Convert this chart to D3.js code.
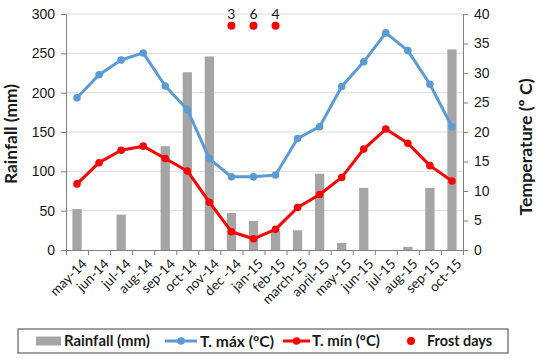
<!DOCTYPE html>
<html>
<head>
<meta charset="utf-8">
<script src="https://cdn.jsdelivr.net/npm/d3@7"></script>
<style>
  body { margin: 0; background: #fff; }
  svg { display: block; font-family: Lato, "Open Sans", sans-serif; }
</style>
</head>
<body>
<div id="chart"></div>
<script>
// data
const months = ['may-14', 'jun-14', 'jul-14', 'aug-14', 'sep-14', 'oct-14', 'nov-14', 'dec -14', 'jan-15',
    'feb-15', 'march-15', 'april-15', 'may-15', 'jun-15', 'jul-15', 'aug-15', 'sep-15', 'oct-15'];
const rainfall = [52, 0, 45, 0, 132, 226, 246, 47, 37, 24, 25, 97, 9, 79, 0, 4, 79, 255];
const tMax = [25.8, 29.7, 32.2, 33.4, 27.8, 23.8, 15.5, 12.4, 12.4, 12.7, 18.9, 20.9, 27.7, 31.9, 36.8, 33.8, 28.1, 20.9];
const tMin = [11.2, 14.8, 16.9, 17.6, 15.5, 13.4, 8.1, 3.1, 1.9, 3.5, 7.2, 9.4, 12.3, 17.1, 20.5, 18.1, 14.3, 11.7];
const frostMonths = ['dec -14', 'jan-15', 'feb-15'];
const frostDays = [3, 6, 4];
const rainTicks = [0, 50, 100, 150, 200, 250, 300];
const tempTicks = [0, 5, 10, 15, 20, 25, 30, 35, 40];
const frostLevel = 38; // frost markers sit near the top of the temperature axis

const W = 537, H = 359;
const m = { top: 14, right: 74, bottom: 109, left: 66 };
const w = W - m.left - m.right, h = H - m.top - m.bottom;

const C = {
    bar: '#a5a5a5', blue: '#5b9bd5', red: '#ff0000',
    grid: '#d9d9d9', axis: '#7f7f7f', text: '#1a1a1a'
};

const svg = d3.select('#chart').append('svg').attr('width', W).attr('height', H);
const g = svg.append('g').attr('transform', `translate(${m.left},${m.top})`);

const x = d3.scaleBand().domain(months).range([0, w]).paddingInner(0.58).paddingOuter(0.29);
const xc = d => x(d) + x.bandwidth() / 2;
const yR = d3.scaleLinear().domain([0, 300]).range([h, 0]);
const yT = d3.scaleLinear().domain([0, 40]).range([h, 0]);

// shrink/grow a label's font so it spans about the width seen in the picture
function fit(sel, target) {
    const len = sel.node().getComputedTextLength();
    const fs = parseFloat(sel.style('font-size'));
    sel.style('font-size', (fs * target / len).toFixed(2) + 'px');
}

// gridlines
g.append('g').selectAll('line').data(rainTicks.slice(1)).join('line')
    .attr('x1', 0).attr('x2', w)
    .attr('y1', d => yR(d)).attr('y2', d => yR(d))
    .attr('stroke', C.grid).attr('stroke-width', 1);

// bars
g.append('g').selectAll('rect').data(rainfall).join('rect')
    .attr('x', (d, i) => x(months[i]))
    .attr('y', d => yR(d))
    .attr('width', x.bandwidth())
    .attr('height', d => h - yR(d))
    .attr('fill', C.bar);

// axes
function styleAxis(sel) {
    sel.selectAll('path, line').attr('stroke', C.axis);
    sel.selectAll('text').attr('fill', C.text).style('font-size', '14px');
}
g.append('g')
    .call(d3.axisLeft(yR).tickValues(rainTicks).tickSize(5).tickPadding(6).tickSizeOuter(0))
    .call(styleAxis);
g.append('g').attr('transform', `translate(${w},0)`)
    .call(d3.axisRight(yT).tickValues(tempTicks).tickSize(5).tickPadding(6).tickSizeOuter(0))
    .call(styleAxis);

// bottom axis: ticks between categories
const xb = d3.scaleLinear().domain([0, months.length]).range([0, w]);
g.append('g').attr('transform', `translate(0,${h})`)
    .call(d3.axisBottom(xb).tickValues(d3.range(months.length + 1)).tickSize(5).tickSizeOuter(0).tickFormat(''))
    .call(styleAxis);
g.append('g').selectAll('text').data(months).join('text')
    .attr('transform', d => `translate(${xc(d) + 4},${h + 8}) rotate(-45)`)
    .attr('text-anchor', 'end')
    .attr('dy', '0.7em')
    .attr('fill', C.text)
    .style('font-size', '13.5px')
    .text(d => d);

// temperature lines
function drawLine(vals, color) {
    const line = d3.line().x((d, i) => xc(months[i])).y(d => yT(d));
    g.append('path').datum(vals)
        .attr('d', line).attr('fill', 'none')
        .attr('stroke', color).attr('stroke-width', 3).attr('stroke-linejoin', 'round');
    g.append('g').selectAll('circle').data(vals).join('circle')
        .attr('cx', (d, i) => xc(months[i])).attr('cy', d => yT(d))
        .attr('r', 3.8).attr('fill', color);
}
drawLine(tMax, C.blue);
drawLine(tMin, C.red);

// frost days
const frost = g.append('g');
frost.selectAll('circle').data(frostDays).join('circle')
    .attr('cx', (d, i) => xc(frostMonths[i])).attr('cy', yT(frostLevel))
    .attr('r', 4).attr('fill', C.red);
frost.selectAll('text').data(frostDays).join('text')
    .attr('x', (d, i) => xc(frostMonths[i])).attr('y', yT(frostLevel) - 7)
    .attr('text-anchor', 'middle')
    .attr('fill', C.text)
    .style('font-size', '14px')
    .text(d => d);

// axis titles
svg.append('text')
    .attr('transform', 'translate(11,134) rotate(-90)')
    .attr('text-anchor', 'middle').attr('dy', '0.36em')
    .attr('fill', C.text).style('font-size', '15px').style('font-weight', 'bold')
    .text('Rainfall (mm)')
    .call(fit, 100);
svg.append('text')
    .attr('transform', 'translate(526,147) rotate(-90)')
    .attr('text-anchor', 'middle').attr('dy', '0.36em')
    .attr('fill', C.text).style('font-size', '15px').style('font-weight', 'bold')
    .text('Temperature (º C)')
    .call(fit, 137);

// legend
const lg = svg.append('g').attr('transform', 'translate(18,329)');
lg.append('rect').attr('width', 490).attr('height', 24)
    .attr('fill', '#fff').attr('stroke', '#404040').attr('stroke-width', 1);
const ly = 12;
function legendText(xp, label, target) {
    lg.append('text').attr('x', xp).attr('y', ly).attr('dy', '0.36em')
        .attr('fill', C.text).style('font-size', '15px').style('font-weight', 'bold')
        .text(label)
        .call(fit, target);
}
lg.append('rect').attr('x', 18).attr('y', ly - 4.5).attr('width', 25).attr('height', 9).attr('fill', C.bar);
legendText(46, 'Rainfall (mm)', 86);
lg.append('line').attr('x1', 147).attr('x2', 179).attr('y1', ly).attr('y2', ly)
    .attr('stroke', C.blue).attr('stroke-width', 3);
lg.append('circle').attr('cx', 163).attr('cy', ly).attr('r', 3.8).attr('fill', C.blue);
legendText(182, 'T. máx (ºC)', 74);
lg.append('line').attr('x1', 265).attr('x2', 292).attr('y1', ly).attr('y2', ly)
    .attr('stroke', C.red).attr('stroke-width', 3);
lg.append('circle').attr('cx', 278.5).attr('cy', ly).attr('r', 3.8).attr('fill', C.red);
legendText(294, 'T. mín (ºC)', 68);
lg.append('circle').attr('cx', 393).attr('cy', ly).attr('r', 4).attr('fill', C.red);
legendText(409, 'Frost days', 65);
</script>
</body>
</html>
